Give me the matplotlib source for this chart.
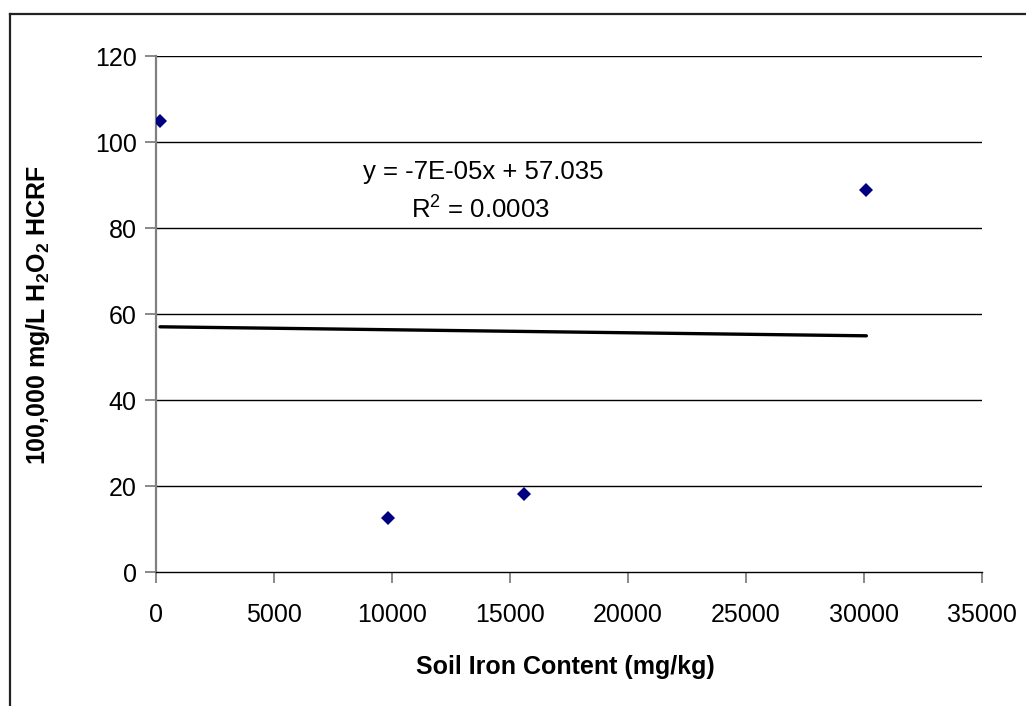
import matplotlib.pyplot as plt
import numpy as np
from matplotlib.lines import Line2D

plt.rcParams["font.family"] = ["Liberation Sans", "DejaVu Sans"]
plt.rcParams["mathtext.fontset"] = "custom"
plt.rcParams["mathtext.rm"] = "Liberation Sans"
plt.rcParams["mathtext.bf"] = "Liberation Sans:bold"

# soil iron content (mg/kg) vs HCRF
iron = [170, 9830, 15590, 30100]
hcrf = [105.0, 12.5, 18.1, 88.8]

# Excel trendline as reported on the chart
slope = -7e-05
intercept = 57.035
r2 = 0.0003

x_ticks = [0, 5000, 10000, 15000, 20000, 25000, 30000, 35000]
y_ticks = [0, 20, 40, 60, 80, 100, 120]

fig = plt.figure(figsize=(10.26, 7.06), dpi=100)
ax = fig.add_axes([156 / 1026, 1 - 572 / 706, 826 / 1026, 516 / 706])

# horizontal gridlines
for yv in y_ticks[1:]:
    ax.axhline(yv, color="black", lw=1.0, zorder=1)

trend_x = np.array([min(iron), max(iron)])
ax.plot(trend_x, slope * trend_x + intercept, color="black", lw=2.4,
        solid_capstyle="round", zorder=2)
ax.plot(iron, hcrf, "D", color="#000080", ms=7.6, mew=0, zorder=3)

ax.set_xlim(0, 35000)
ax.set_ylim(0, 120)
ax.set_xticks(x_ticks)
ax.set_yticks(y_ticks)
ax.tick_params(axis="both", labelsize=18, color="#808080", length=8, width=1.3)
ax.tick_params(axis="x", pad=14)
ax.tick_params(axis="y", pad=6)

for s in ("top", "right"):
    ax.spines[s].set_visible(False)
ax.spines["left"].set_color("#808080")
ax.spines["left"].set_linewidth(1.6)
ax.spines["bottom"].set_color("black")
ax.spines["bottom"].set_linewidth(1.0)

ax.text(0.396, 0.775, "y = -7E-05x + 57.035", transform=ax.transAxes,
        ha="center", va="center", fontsize=18.5)
ax.text(0.393, 0.705, "R$^2$ = %.4f" % r2, transform=ax.transAxes,
        ha="center", va="center", fontsize=18.5)

fig.text(565 / 1026, 1 - 667 / 706, "Soil Iron Content (mg/kg)",
         ha="center", va="center", fontsize=18, fontweight="bold")
fig.text(38 / 1026, 1 - 315 / 706,
         r"100,000 mg/L H$_\mathbf{2}$O$_\mathbf{2}$ HCRF",
         ha="center", va="center", rotation=90, fontsize=18, fontweight="bold")

# chart area border (runs off right and bottom edges)
fig.add_artist(Line2D([10 / 1026, 10 / 1026], [0, 1 - 14 / 706],
                      transform=fig.transFigure, color="#222222", lw=1.6))
fig.add_artist(Line2D([10 / 1026, 1], [1 - 14 / 706, 1 - 14 / 706],
                      transform=fig.transFigure, color="#222222", lw=1.6))

fig.savefig("out.png", dpi=100)
